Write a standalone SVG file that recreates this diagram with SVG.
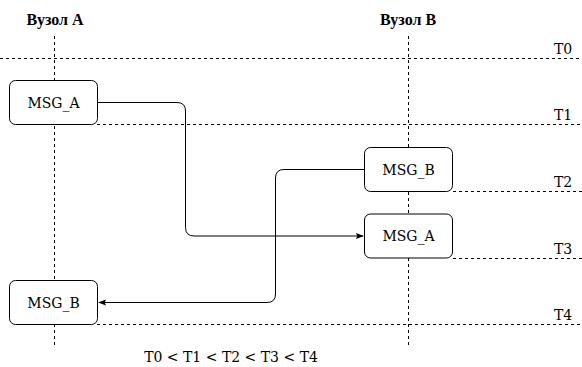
<svg xmlns="http://www.w3.org/2000/svg" width="582" height="367" viewBox="0 0 582 367">
<style>
.dash{stroke:#000;stroke-width:1;stroke-dasharray:3 3;fill:none}
.box rect{fill:#fff;stroke:#000;stroke-width:1}
.t{font-family:"DejaVu Serif",serif;font-size:14px;fill:#000}
.c{text-anchor:middle}
.b{font-family:"Liberation Serif",serif;font-weight:bold;font-size:16px}
.conn path{fill:none;stroke:#000;stroke-width:1}
</style>
<defs>
<marker id="ah" viewBox="0 0 10 10" refX="9" refY="5" markerWidth="8" markerHeight="8" markerUnits="userSpaceOnUse" orient="auto">
<path d="M0,1 L10,5 L0,9 L2,5 Z" fill="#000"/>
</marker>
</defs>
<g id="lifelines">
<line class="dash" x1="54.5" y1="36" x2="54.5" y2="347"/>
<line class="dash" x1="408.5" y1="36" x2="408.5" y2="347"/>
</g>
<g id="timelines">
<line class="dash" x1="0" y1="58.5" x2="582" y2="58.5"/>
<line class="dash" x1="97" y1="124.5" x2="582" y2="124.5"/>
<line class="dash" x1="453" y1="191.5" x2="582" y2="191.5"/>
<line class="dash" x1="453" y1="258.5" x2="582" y2="258.5"/>
<line class="dash" x1="97" y1="324.5" x2="582" y2="324.5"/>
<text class="t c" x="563" y="54">T0</text>
<text class="t c" x="563" y="120">T1</text>
<text class="t c" x="563" y="187">T2</text>
<text class="t c" x="563" y="254">T3</text>
<text class="t c" x="563" y="320">T4</text>
</g>
<g id="nodeA-title"><text class="t c b" x="55" y="25">Вузол А</text></g>
<g id="nodeB-title"><text class="t c b" x="408" y="25">Вузол В</text></g>
<g class="conn" id="connectors">
<path d="M98,102.5 H177 Q185.5,102.5 185.5,111 V227.5 Q185.5,236 194,236 H363" marker-end="url(#ah)"/>
<path d="M364,169.5 H284 Q275.5,169.5 275.5,178 V294 Q275.5,302.5 267,302.5 H99" marker-end="url(#ah)"/>
</g>
<g class="box" id="msgA-left"><rect x="9.5" y="80.5" width="88" height="44" rx="6"/><text class="t c" x="53.5" y="107.5">MSG_A</text></g>
<g class="box" id="msgB-right"><rect x="364.5" y="147.5" width="88" height="44" rx="6"/><text class="t c" x="408.5" y="174.5">MSG_B</text></g>
<g class="box" id="msgA-right"><rect x="364.5" y="214" width="88" height="44" rx="6"/><text class="t c" x="408.5" y="241">MSG_A</text></g>
<g class="box" id="msgB-left"><rect x="9.5" y="280.5" width="88" height="44" rx="6"/><text class="t c" x="53.5" y="307.5">MSG_B</text></g>
<g id="footer"><text class="t c" x="231" y="362">T0 &lt; T1 &lt; T2 &lt; T3 &lt; T4</text></g>
</svg>
